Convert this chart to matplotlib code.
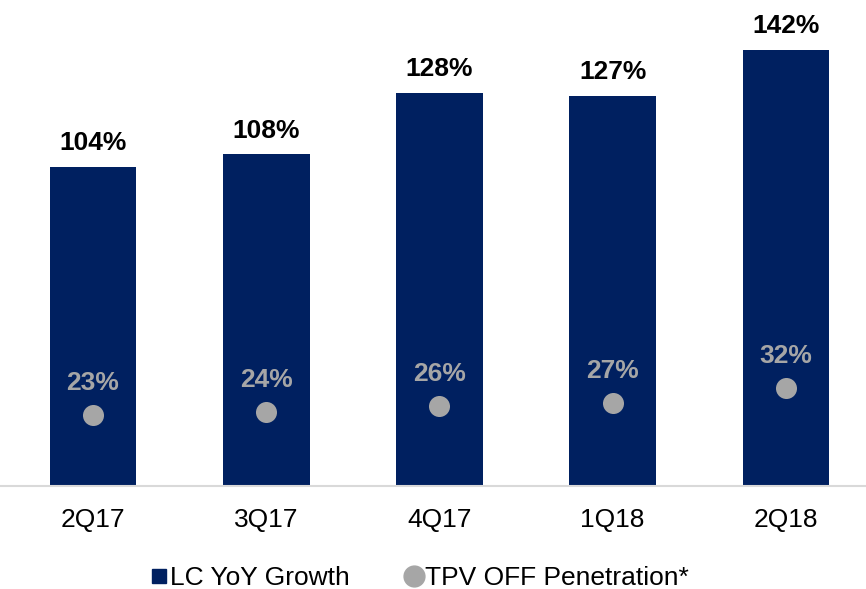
import matplotlib.pyplot as plt
from matplotlib.lines import Line2D

plt.rcParams['font.family'] = ['Liberation Sans', 'DejaVu Sans']

quarters = ['2Q17', '3Q17', '4Q17', '1Q18', '2Q18']
lc_growth = [104, 108, 128, 127, 142]
tpv_off = [23, 24, 26, 27, 32]

navy = '#002060'
grey = '#A6A6A6'

fig = plt.figure(figsize=(8.66, 5.89), dpi=100)
ax = fig.add_axes([0, 0.175, 1, 0.825])

x = list(range(len(quarters)))
ax.bar(x, lc_growth, width=0.5, color=navy, zorder=2)
ax.scatter(x, tpv_off, s=21**2 * 0.52, color=grey, zorder=3, linewidths=0)

for xi, v in zip(x, lc_growth):
    ax.text(xi, v + 3.8, f'{v}%', ha='center', va='bottom', fontsize=19,
            fontweight='bold', color='black')
for xi, v in zip(x, tpv_off):
    ax.text(xi, v + 6.5, f'{v}%', ha='center', va='bottom', fontsize=19,
            fontweight='bold', color=grey, zorder=4)

ax.set_xlim(-0.537, 4.463)
ax.set_ylim(0, 158.3)
ax.set_xticks(x)
ax.set_xticklabels(quarters, fontsize=19)
ax.tick_params(axis='x', length=0, pad=16)
ax.set_yticks([])
for s in ['top', 'right', 'left']:
    ax.spines[s].set_visible(False)
ax.spines['bottom'].set_color('#D9D9D9')
ax.spines['bottom'].set_linewidth(1.5)

handles = [
    Line2D([], [], marker='s', linestyle='none', color=navy, markersize=10),
    Line2D([], [], marker='o', linestyle='none', color=grey, markersize=15),
]
fig.legend(handles, ['LC YoY Growth', 'TPV OFF Penetration*'], loc='center',
           bbox_to_anchor=(0.486, 0.019), ncol=2, frameon=False, fontsize=19,
           handlelength=0.5, handletextpad=0.15, columnspacing=2.2)

fig.savefig('out.png', dpi=100)
